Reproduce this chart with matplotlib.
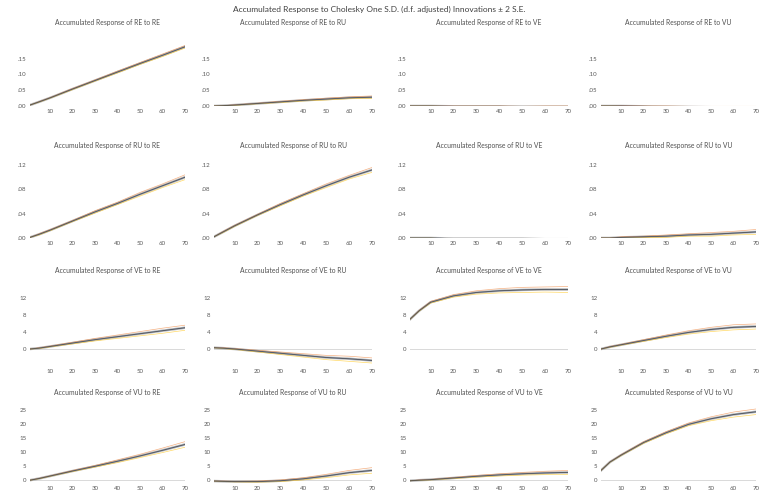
import numpy as np
import matplotlib
matplotlib.use("Agg")
import matplotlib.pyplot as plt

plt.rcParams['font.family'] = ['Lato', 'DejaVu Sans']

periods = [1, 5, 10, 20, 30, 40, 50, 60, 70]
xticks = [10, 20, 30, 40, 50, 60, 70]

# accumulated responses (central line) and +/- 2 S.E. half widths
re_to_re = [0.003, 0.013, 0.026, 0.054, 0.081, 0.108, 0.135, 0.161, 0.188]
re_to_ru = [0.000, 0.001, 0.003, 0.008, 0.013, 0.018, 0.022, 0.026, 0.028]
re_to_ve = [0.000, 0.000, 0.000, -0.001, -0.001, -0.001, -0.002, -0.002, -0.002]
re_to_vu = [0.000, 0.000, 0.000, -0.001, -0.002, -0.003, -0.004, -0.004, -0.005]
re_band = [[0.000, 0.001, 0.001, 0.002, 0.002, 0.003, 0.003, 0.004, 0.004],
           [0.000, 0.000, 0.001, 0.001, 0.002, 0.002, 0.003, 0.003, 0.004],
           [0.000, 0.000, 0.000, 0.001, 0.001, 0.001, 0.001, 0.002, 0.002],
           [0.000, 0.000, 0.001, 0.001, 0.002, 0.002, 0.003, 0.003, 0.004]]

ru_to_re = [0.001, 0.006, 0.013, 0.028, 0.043, 0.057, 0.072, 0.086, 0.100]
ru_to_ru = [0.002, 0.010, 0.020, 0.038, 0.055, 0.071, 0.086, 0.100, 0.112]
ru_to_ve = [0.000, 0.000, 0.000, -0.001, -0.001, -0.001, -0.001, -0.002, -0.002]
ru_to_vu = [0.000, 0.000, 0.001, 0.002, 0.003, 0.005, 0.006, 0.008, 0.010]
ru_band = [[0.000, 0.001, 0.001, 0.001, 0.002, 0.002, 0.003, 0.003, 0.004],
           [0.000, 0.001, 0.001, 0.001, 0.002, 0.002, 0.003, 0.003, 0.004],
           [0.000, 0.000, 0.000, 0.001, 0.001, 0.001, 0.001, 0.002, 0.002],
           [0.000, 0.000, 0.001, 0.001, 0.002, 0.002, 0.003, 0.003, 0.004]]

ve_to_re = [0.0, 0.2, 0.6, 1.4, 2.2, 2.9, 3.6, 4.3, 5.0]
ve_to_ru = [0.3, 0.2, 0.0, -0.5, -1.0, -1.5, -2.0, -2.3, -2.7]
ve_to_ve = [7.0, 9.0, 11.0, 12.5, 13.3, 13.7, 13.9, 14.0, 14.0]
ve_to_vu = [0.0, 0.5, 1.0, 2.0, 3.0, 3.9, 4.6, 5.1, 5.3]
ve_band = [[0.0, 0.1, 0.1, 0.2, 0.3, 0.4, 0.5, 0.6, 0.6],
           [0.0, 0.1, 0.1, 0.2, 0.3, 0.4, 0.5, 0.6, 0.6],
           [0.0, 0.1, 0.2, 0.3, 0.4, 0.5, 0.6, 0.6, 0.7],
           [0.0, 0.1, 0.1, 0.2, 0.3, 0.4, 0.5, 0.6, 0.6]]

vu_to_re = [0.0, 0.6, 1.5, 3.3, 5.0, 6.8, 8.7, 10.7, 12.8]
vu_to_ru = [-0.3, -0.4, -0.5, -0.5, -0.2, 0.5, 1.5, 2.7, 3.5]
vu_to_ve = [-0.2, 0.0, 0.2, 0.8, 1.4, 1.9, 2.3, 2.6, 2.8]
vu_to_vu = [3.5, 6.5, 9.0, 13.5, 17.0, 20.0, 22.0, 23.5, 24.5]
vu_band = [[0.0, 0.1, 0.1, 0.2, 0.3, 0.5, 0.6, 0.8, 1.0],
           [0.0, 0.1, 0.1, 0.2, 0.3, 0.4, 0.6, 0.8, 1.0],
           [0.0, 0.1, 0.1, 0.2, 0.3, 0.4, 0.5, 0.6, 0.7],
           [0.0, 0.1, 0.2, 0.3, 0.4, 0.5, 0.7, 0.9, 1.0]]

variables = ['RE', 'RU', 'VE', 'VU']
responses = [[re_to_re, re_to_ru, re_to_ve, re_to_vu],
             [ru_to_re, ru_to_ru, ru_to_ve, ru_to_vu],
             [ve_to_re, ve_to_ru, ve_to_ve, ve_to_vu],
             [vu_to_re, vu_to_ru, vu_to_ve, vu_to_vu]]
bands = [re_band, ru_band, ve_band, vu_band]

row_yticks = [[0, 0.05, 0.10, 0.15],
              [0, 0.04, 0.08, 0.12],
              [0, 4, 8, 12],
              [0, 5, 10, 15, 20, 25]]
row_ylabels = [['.00', '.05', '.10', '.15'],
               ['.00', '.04', '.08', '.12'],
               ['0', '4', '8', '12'],
               ['0', '5', '10', '15', '20', '25']]

# layout in pixels
W, H = 759, 498
col_px = [(30, 185), (214, 372), (410, 568), (601, 756)]
row_px = [(43, 106), (159, 238), (281, 366), (402, 483)]
row_ylim = [(0, 0.20), (0, 0.13), (-4, 16), (-1, 28)]
row_title_y = [22, 145, 270, 392]

txt = '#404040'
fig = plt.figure(figsize=(W / 100, H / 100), dpi=100)
fig.text(0.5, 1 - 9 / H, 'Accumulated Response to Cholesky One S.D. (d.f. adjusted) Innovations \u00b1 2 S.E.',
         ha='center', va='center', fontsize=6, color=txt)

for i in range(4):
    for j in range(4):
        x0, x1 = col_px[j]
        yt, yb = row_px[i]
        ax = fig.add_axes([x0 / W, 1 - yb / H, (x1 - x0) / W, (yb - yt) / H])
        mid = np.array(responses[i][j])
        b = np.array(bands[i][j])
        ax.axhline(0, color='#d9d9d9', lw=0.7, zorder=1)
        ax.plot(periods, mid, color='#a5a5a5', lw=1.8, alpha=0.8, zorder=2)
        ax.plot(periods, mid + b, color='#ed7d31', lw=0.5, alpha=0.6, zorder=3)
        ax.plot(periods, mid - b, color='#ffc000', lw=0.5, alpha=0.6, zorder=3)
        ax.plot(periods, mid, color='#4472c4', lw=0.5, alpha=0.5, zorder=4)
        ax.plot(periods, mid, color='#404040', lw=0.6, alpha=0.8, zorder=5)
        ax.set_xlim(1, 70)
        ax.set_ylim(*row_ylim[i])
        ax.set_xticks(xticks)
        ax.set_xticklabels([str(t) for t in xticks])
        ax.set_yticks(row_yticks[i])
        ax.set_yticklabels(row_ylabels[i])
        ax.tick_params(length=0, labelsize=4.4, labelcolor='#595959', pad=2.5)
        for s in ax.spines.values():
            s.set_visible(False)
        ax.patch.set_alpha(0)
        fig.text((x0 + x1) / 2 / W, 1 - row_title_y[i] / H,
                 'Accumulated Response of %s to %s' % (variables[i], variables[j]),
                 ha='center', va='center', fontsize=4.9, color='#505050')

fig.savefig('out.png', dpi=100)
